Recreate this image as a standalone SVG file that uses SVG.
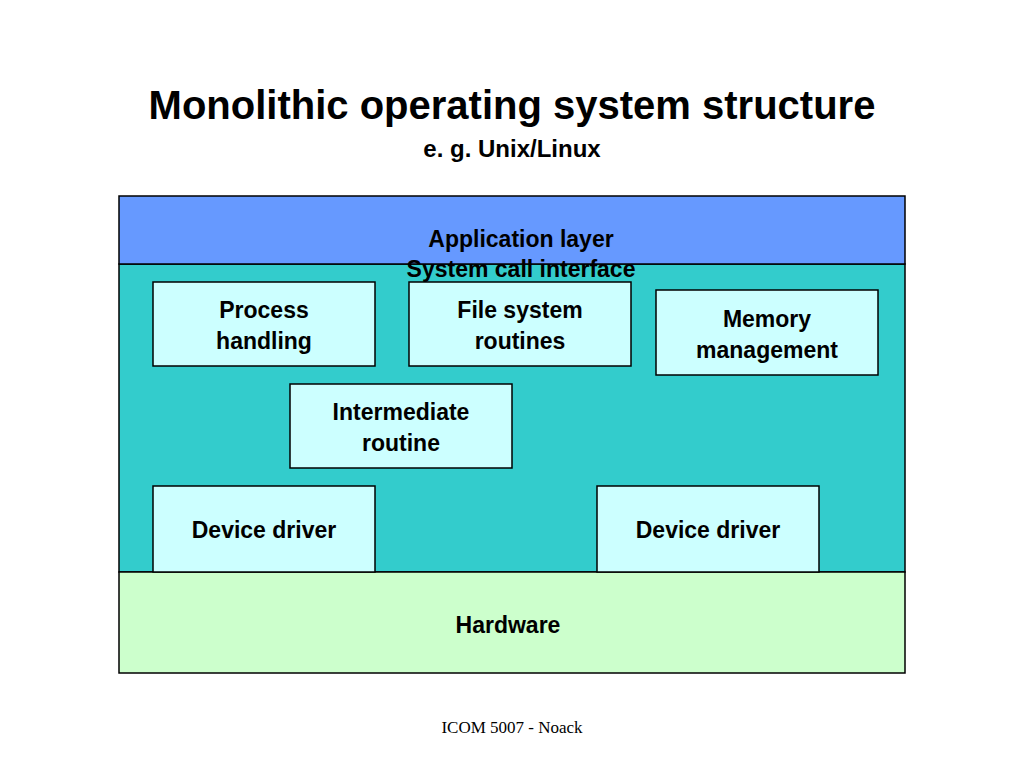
<svg xmlns="http://www.w3.org/2000/svg" width="1024" height="768" viewBox="0 0 1024 768">
<style>
.t{font-family:"Liberation Sans",Arial,sans-serif;font-weight:bold;font-size:23px;text-anchor:middle;fill:#000}
.b{fill:#ccffff;stroke:#000;stroke-width:1.5}
</style>
<rect width="1024" height="768" fill="#fff"/>
<text x="512" y="119" class="t" style="font-size:40px">Monolithic operating system structure</text>
<text x="512" y="157" class="t" style="font-size:24px">e. g. Unix/Linux</text>
<g id="kernel"><rect x="119" y="264" width="786" height="308" fill="#33cccc" stroke="#000" stroke-width="1.5"/></g>
<g id="app"><rect x="119" y="196" width="786" height="68" fill="#6699ff" stroke="#000" stroke-width="1.5"/>
<text x="521" y="247" class="t">Application layer</text>
<text x="521" y="277" class="t">System call interface</text></g>
<g id="hw"><rect x="119" y="572" width="786" height="101" fill="#ccffcc" stroke="#000" stroke-width="1.5"/>
<text x="508" y="633" class="t">Hardware</text></g>
<g id="proc"><rect class="b" x="153" y="282" width="222" height="84"/><text x="264" y="318" class="t">Process</text><text x="264" y="349" class="t">handling</text></g>
<g id="fs"><rect class="b" x="409" y="282" width="222" height="84"/><text x="520" y="318" class="t">File system</text><text x="520" y="349" class="t">routines</text></g>
<g id="mem"><rect class="b" x="656" y="290" width="222" height="85"/><text x="767" y="327" class="t">Memory</text><text x="767" y="358" class="t">management</text></g>
<g id="inter"><rect class="b" x="290" y="384" width="222" height="84"/><text x="401" y="420" class="t">Intermediate</text><text x="401" y="451" class="t">routine</text></g>
<g id="dd1"><rect class="b" x="153" y="486" width="222" height="86"/><text x="264" y="538" class="t">Device driver</text></g>
<g id="dd2"><rect class="b" x="597" y="486" width="222" height="86"/><text x="708" y="538" class="t">Device driver</text></g>
<g id="connectors"/>
<text x="512" y="733" style="font-family:'Liberation Serif',serif;font-size:17px;text-anchor:middle">ICOM 5007 - Noack</text>
</svg>
